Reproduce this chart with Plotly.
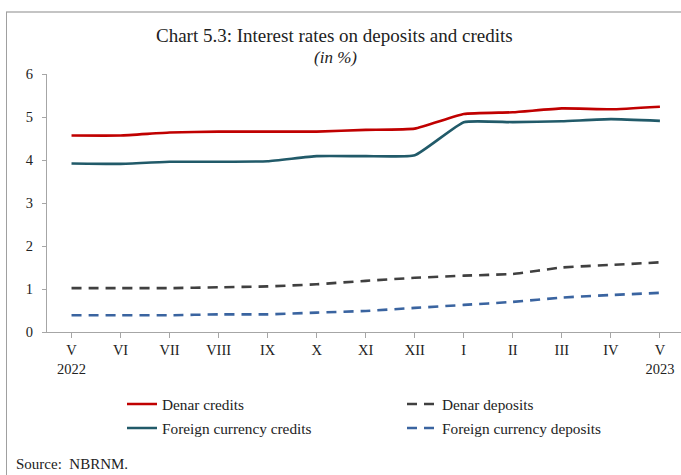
import plotly.graph_objects as go

# Monthly periods, May 2022 - May 2023
months = ["V", "VI", "VII", "VIII", "IX", "X", "XI", "XII", "I", "II", "III", "IV", "V"]
tick_text = ["V<br>2022", "VI", "VII", "VIII", "IX", "X", "XI", "XII", "I", "II", "III", "IV", "V<br>2023"]
x_idx = list(range(len(months)))

# Interest rates, in %
denar_credits = [4.57, 4.57, 4.64, 4.66, 4.66, 4.66, 4.70, 4.73, 5.07, 5.11, 5.20, 5.18, 5.24]
fx_credits = [3.92, 3.91, 3.96, 3.96, 3.97, 4.09, 4.09, 4.11, 4.88, 4.88, 4.90, 4.95, 4.91]
denar_deposits = [1.02, 1.02, 1.02, 1.04, 1.06, 1.11, 1.19, 1.26, 1.31, 1.35, 1.50, 1.56, 1.62]
fx_deposits = [0.39, 0.39, 0.39, 0.41, 0.41, 0.45, 0.49, 0.56, 0.63, 0.70, 0.80, 0.86, 0.91]

FONT = "Liberation Serif"
TXT = "#222222"
DASH = "10px,7px"

L, T, B = 47, 74, 143
W, H = 681, 475
pw = W - L
ph = H - T - B


def px_x(p):
    return (p - L) / pw


def px_y(p):
    return (H - B - p) / ph


# one legend per entry so the 2x2 key sits in fixed columns
series = [
    ("Denar credits", denar_credits, "#c00000", "solid", "legend", 122, 404),
    ("Denar deposits", denar_deposits, "#404040", DASH, "legend2", 402, 404),
    ("Foreign currency credits", fx_credits, "#215a69", "solid", "legend3", 122, 428),
    ("Foreign currency deposits", fx_deposits, "#3a64a0", DASH, "legend4", 402, 428),
]

fig = go.Figure()
legends = {}
for name, vals, color, dash, leg, lx, ly in series:
    fig.add_trace(go.Scatter(
        x=x_idx, y=vals, name=name, mode="lines",
        line=dict(color=color, width=2.6, dash=dash, shape="spline", smoothing=0.4),
        legend=leg,
    ))
    legends[leg] = dict(
        x=px_x(lx), y=px_y(ly), xanchor="left", yanchor="middle",
        orientation="h", itemwidth=30,
        font=dict(family=FONT, size=15.3, color=TXT),
        bgcolor="rgba(0,0,0,0)",
    )

fig.update_layout(
    width=W, height=H,
    margin=dict(l=L, r=0, t=T, b=B),
    paper_bgcolor="white", plot_bgcolor="white",
    font=dict(family=FONT, size=14.5, color=TXT),
    showlegend=True,
    **legends,
    xaxis=dict(
        tickmode="array", tickvals=x_idx, ticktext=tick_text,
        range=[-0.5, 12.43], tickson="boundaries",
        ticks="outside", ticklen=5, tickcolor="#a6a6a6",
        showline=True, linecolor="#a6a6a6", linewidth=1,
        showgrid=False, zeroline=False, fixedrange=True,
        tickfont=dict(family=FONT, size=14.5, color=TXT),
    ),
    yaxis=dict(
        range=[0, 6], tickvals=[0, 1, 2, 3, 4, 5, 6],
        ticks="outside", ticklen=4, tickcolor="#a6a6a6",
        showline=True, linecolor="#a6a6a6", linewidth=1,
        showgrid=False, zeroline=False, ticklabelstandoff=6,
        tickfont=dict(family=FONT, size=14.5, color=TXT),
    ),
    annotations=[
        dict(text="Chart 5.3: Interest rates on deposits and credits",
             xref="paper", yref="paper", x=px_x(334), y=px_y(36),
             xanchor="center", yanchor="middle", showarrow=False,
             font=dict(family=FONT, size=19, color=TXT)),
        dict(text="<i>(in %)</i>",
             xref="paper", yref="paper", x=px_x(335), y=px_y(57),
             xanchor="center", yanchor="middle", showarrow=False,
             font=dict(family=FONT, size=17, color=TXT)),
        dict(text="Source:  NBRNM.",
             xref="paper", yref="paper", x=px_x(14), y=px_y(464),
             xanchor="left", yanchor="middle", showarrow=False,
             font=dict(family=FONT, size=15, color=TXT)),
    ],
    shapes=[
        dict(type="line", xref="paper", yref="paper",
             x0=px_x(6), x1=px_x(690), y0=px_y(12), y1=px_y(12),
             line=dict(color="#c4c4c4", width=2)),
        dict(type="line", xref="paper", yref="paper",
             x0=px_x(6.5), x1=px_x(6.5), y0=px_y(12), y1=px_y(480),
             line=dict(color="#a0a0a0", width=1)),
    ],
)

fig.write_html("out.html")
